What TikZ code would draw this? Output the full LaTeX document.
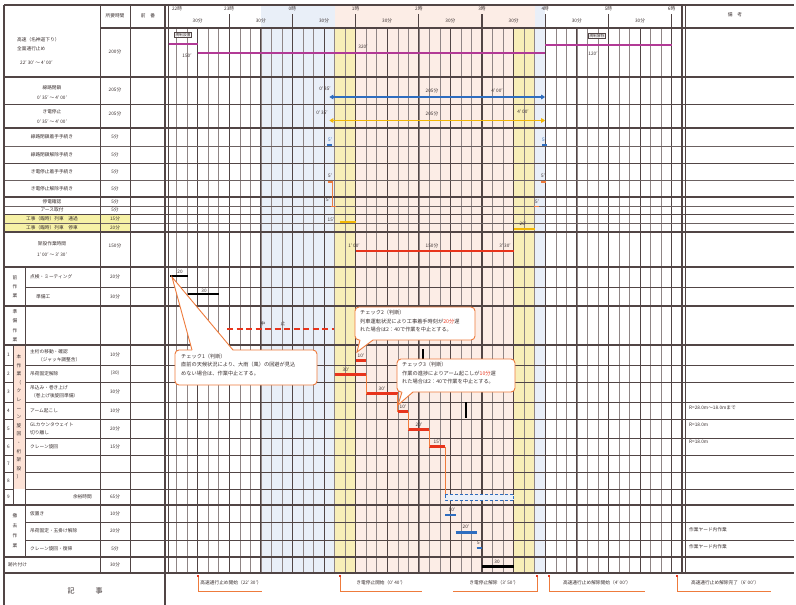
\documentclass[tikz,border=0pt]{standalone}
\usepackage{fontspec}
\setmainfont{Noto Sans CJK JP}
\usetikzlibrary{arrows.meta}
\definecolor{gridc}{HTML}{514545}
\definecolor{gridl}{HTML}{8F8585}
\definecolor{magc}{HTML}{B23A96}
\definecolor{bluec}{HTML}{2E6DBF}
\definecolor{yelc}{HTML}{F2B705}
\definecolor{redc}{HTML}{E8341C}
\definecolor{orac}{HTML}{EE7B3C}
\definecolor{bandpink}{HTML}{FCEDE6}
\definecolor{bandyel}{HTML}{F8EEB8}
\definecolor{bandblue}{HTML}{E9EFF8}
\definecolor{rowyel}{HTML}{F6F1A6}
\definecolor{colpink}{HTML}{FDE2D6}
\definecolor{txtc}{HTML}{3A3030}
\newcommand\fsa{\fontsize{4.7}{5.6}\selectfont}
\newcommand\fsb{\fontsize{5.2}{8.6}\selectfont}
\newcommand\fsv{\fontsize{4.7}{9}\selectfont}
\begin{document}
\begin{tikzpicture}[x=1pt,y=-1pt,
  every node/.style={inner sep=0pt,font=\fsa,text=txtc},
  gmaj/.style={gridc,line width=1.2pt},
  gmed/.style={gridc,line width=0.8pt},
  gmin/.style={gridc!85,line width=0.55pt},
  gthin/.style={gridl,line width=0.45pt},
  magbar/.style={magc,line width=2pt},
  redbar/.style={redc,line width=2.2pt},
  bluebar/.style={bluec,line width=2.2pt},
  blkbar/.style={black,line width=2.2pt},
  yelbar/.style={yelc,line width=2pt},
  orabar/.style={orac,line width=1.6pt},
  link/.style={orac,line width=0.5pt},
  callbox/.style={draw=orac,line width=0.9pt,fill=white,rounded corners=4pt},
  calledge/.style={orac,line width=0.9pt},
  noteline/.style={orac,line width=0.8pt},
  marker/.style={fill=redc,minimum size=2.2pt,inner sep=0pt},
  tagbox/.style={draw=gridc,line width=0.3pt,inner sep=0.8pt,font=\fontsize{3.8}{4}\selectfont},
]
\useasboundingbox (0,0) rectangle (796,605);
\fill[white] (0,0) rectangle (796,605);

% ---------- colour bands ----------
\fill[bandblue] (260.8,5) rectangle (334.5,573);
\fill[bandblue] (534.7,5) rectangle (545.2,573);
\fill[bandpink] (334.5,5) rectangle (534.7,28);
\fill[bandpink] (355.6,28) rectangle (513.6,573);
\fill[bandyel] (334.5,28) rectangle (355.6,573);
\fill[bandyel] (513.6,28) rectangle (534.7,573);
\fill[rowyel] (4,214) rectangle (130,232);
\fill[colpink] (13,345) rectangle (25,489);

% ---------- vertical grid of the time axis ----------
\foreach \i in {1,...,47}{\draw[gthin] ({166+\i*10.5333},28) -- ({166+\i*10.5333},573);}
\foreach \i in {1,3,...,15}{\draw[gmed] ({166+\i*31.6},28) -- ({166+\i*31.6},573);}
\foreach \i in {1,...,8}{\draw[gmaj] ({166+\i*63.2},14) -- ({166+\i*63.2},573);}

% ---------- horizontal lines ----------
\draw[gmaj] (4,5) -- (794,5);
\draw[gmaj] (100,28) -- (794,28);
\foreach \y in {77,128,197,232,267,306,345,505,557,573}{\draw[gmaj] (4,\y) -- (794,\y);}
\foreach \y in {104,163,214}{\draw[gmed] (4,\y) -- (794,\y);}
\foreach \y in {146,180,206,223}{\draw[gmin] (4,\y) -- (794,\y);}
\draw[gmed] (25,287) -- (794,287);
\foreach \y in {365,382,402,419,438,455,472,489}{\draw[gmed] (4,\y) -- (13,\y); \draw[gmed] (25,\y) -- (794,\y);}
\foreach \y in {522,540}{\draw[gmed] (25,\y) -- (794,\y);}

% ---------- vertical table lines ----------
\draw[gmaj] (4,5) -- (4,605);
\draw[gmed] (100,5) -- (100,573);
\draw[gmed] (130,5) -- (130,573);
\draw[gmaj] (165,5) -- (165,605);
\draw[gmed] (168.5,5) -- (168.5,573);
\draw[gmed] (25,267) -- (25,557);
\draw[gmed] (13,345) -- (13,505);
\draw[gmaj] (682,5) -- (682,573);
\draw[gmed] (685.5,5) -- (685.5,573);

% ---------- header ----------
\node (hd1) at (115,16) {所要時間};
\node (hd2) at (148,16) {前　番};
\node (hd3) at (735,15) {備　考};
\node (h22) at (177,9) {22時};
\foreach \h/\t in {1/23時,2/0時,3/1時,4/2時,5/3時,6/4時,7/5時,8/6時}{\node (h\h) at ({166+\h*63.2},9) {\t};}
\foreach \k in {0,...,7}{\node (m\k) at ({166+(2*\k+1)*31.6},21) {30分};}

% ---------- left column labels ----------
\node[anchor=west] (la1) at (17,40) {高速（名神道下り）};
\node[anchor=west] (la2) at (17,49) {全面通行止め};
\node[anchor=west] (la3) at (20,63) {22′ 30′ ～ 4′ 00′};
\node (da) at (115,52) {200分};
\node (lb1) at (52,88) {線路閉鎖};
\node (lb2) at (52,97.5) {0′ 35′ ～ 4′ 00′};
\node (db) at (115,90) {205分};
\node (lc1) at (52,112) {き電停止};
\node (lc2) at (52,121.5) {0′ 35′ ～ 4′ 00′};
\node (dc) at (115,114) {205分};
\node (ld) at (52,137) {線路閉鎖着手手続き}; \node (dd) at (115,137) {5分};
\node (le) at (52,155) {線路閉鎖解除手続き}; \node (de) at (115,155) {5分};
\node (lf) at (52,172) {き電停止着手手続き}; \node (df) at (115,172) {5分};
\node (lg) at (52,189) {き電停止解除手続き}; \node (dg) at (115,189) {5分};
\node (lh1) at (52,201.5) {停電確認}; \node (dh1) at (115,201.5) {5分};
\node (lh2) at (52,210) {アース取付}; \node (dh2) at (115,210) {5分};
\node (ly1) at (52,218.5) {工事（臨時）列車　通過}; \node (dy1) at (115,218.5) {15分};
\node (ly2) at (52,227.5) {工事（臨時）列車　停車}; \node (dy2) at (115,227.5) {20分};
\node (ll1) at (52,244) {架設作業時間};
\node (ll2) at (52,255) {1′ 00′ ～ 3′ 30′};
\node (dl) at (115,246) {150分};

\node[align=center,font=\fsv] (sec1) at (15,286.5) {前\\作\\業};
\node[anchor=west] (lp1) at (30,277) {点検・ミーティング}; \node (dp1) at (115,277) {20分};
\node[anchor=west] (lp2) at (36,296.5) {準備工}; \node (dp2) at (115,296.5) {30分};
\node[align=center,font=\fontsize{4.7}{9.5}\selectfont] (sec2) at (15,325.5) {準\\備\\作\\業};

\node[align=center,font=\fontsize{4.7}{8.6}\selectfont] (sec3) at (19,417) {本\\作\\業\\（\\ク\\レ\\ー\\ン\\旋\\回\\・\\桁\\架\\設\\）};
\foreach \n/\y in {1/355,2/373.5,3/392,4/410.5,5/428.5,6/446.5,7/463.5,8/480.5,9/497}{\node (no\n) at (8.5,\y) {\n};}
\node[anchor=west] (lr1a) at (30,351.5) {主桁の移動・確認};
\node[anchor=west] (lr1b) at (38,359.5) {（ジャッキ調整含）};
\node (dr1) at (115,355) {10分};
\node[anchor=west] (lr2) at (30,373.5) {吊荷固定解除}; \node (dr2) at (115,373.5) {(30)};
\node[anchor=west] (lr3a) at (30,388) {吊込み・巻き上げ};
\node[anchor=west] (lr3b) at (31,396) {（巻上げ後旋回準備）};
\node (dr3) at (115,392) {30分};
\node[anchor=west] (lr4) at (30,410.5) {アーム起こし}; \node (dr4) at (115,410.5) {10分};
\node[anchor=west] (lr5a) at (30,424.5) {GLカウンタウェイト};
\node[anchor=west] (lr5b) at (30,432.5) {切り離し};
\node (dr5) at (115,428.5) {20分};
\node[anchor=west] (lr6) at (30,446.5) {クレーン旋回}; \node (dr6) at (115,446.5) {15分};
\node[anchor=east] (lr9) at (92,497) {余裕時間}; \node (dr9) at (115,497) {65分};

\node[align=center,font=\fontsize{4.7}{10}\selectfont] (sec4) at (15,531) {撤\\去\\作\\業};
\node[anchor=west] (lt1) at (30,513.5) {仮置き}; \node (dt1) at (115,513.5) {10分};
\node[anchor=west] (lt2) at (30,531) {吊荷固定・玉掛け解除}; \node (dt2) at (115,531) {20分};
\node[anchor=west] (lt3) at (30,548.5) {クレーン旋回・復帰}; \node (dt3) at (115,548.5) {5分};
\node[anchor=west] (lz) at (8,565) {跡片付け}; \node (dz) at (115,565) {30分};

\node[font=\fontsize{7}{8}\selectfont] (kiji) at (85,591) {記　　　事};

% ---------- row A : highway closure ----------
\node[tagbox,fill=white] (kis1) at (183,35) {規制設置};
\draw[magbar] (168.5,43.5) -- (197.6,43.5);
\node (a150) at (187,56) {150′};
\draw[magbar] (197.6,52.5) -- (545.2,52.5);
\node (a320) at (363,46.5) {320′};
\draw[magbar] (545.2,44.5) -- (671.6,44.5);
\node[tagbox,fill=white] (kis2) at (597,36) {規制解除};
\node (a120) at (593,54) {120′};

% ---------- rows B, C ----------
\node (b1) at (325,89) {0′ 35′};
\draw[bluec,line width=1.4pt,{Triangle[length=4pt,width=4.5pt]}-{Triangle[length=4pt,width=4.5pt]}] (329.3,97) -- (545.2,97);
\node (b2) at (432,91) {205分};
\node (b3) at (497,91) {4′ 00′};
\node (c1) at (322,112.5) {0′ 35′};
\draw[yelc,line width=1.4pt,{Triangle[length=4pt,width=4.5pt]}-{Triangle[length=4pt,width=4.5pt]}] (329.3,120.5) -- (545.2,120.5);
\node (c2) at (432,114) {205分};
\node (c3) at (523,111.5) {4′ 00′};

% ---------- procedure marks ----------
\node[text=bluec] (d1) at (330,139.5) {5′};
\draw[bluec,line width=2pt] (327,145) -- (332,145);
\node[text=bluec] (d2) at (544,139.5) {5′};
\draw[bluec,line width=2pt] (542,145) -- (547,145);
\node (f1) at (330,175.5) {5′};
\draw[orabar] (327.5,182) -- (333,182);
\node (f2) at (543,175.5) {5′};
\draw[orabar] (541,182) -- (546,182);
\node (g1) at (328,200) {5′};
\draw[orabar] (331,206.5) -- (336,206.5);
\node (g2) at (537,201.5) {5′};
\draw[orabar] (534,206.5) -- (539,206.5);
\draw[link] (332,183) -- (332,206);
\node (y1) at (331,219.5) {15′};
\draw[yelbar] (339.8,221.5) -- (355.6,221.5);
\node (y2) at (523,224) {20′};
\draw[yelbar] (513.6,228.5) -- (534.7,228.5);

% ---------- row L ----------
\node (l1) at (354,245.5) {1′ 00′};
\node (l2) at (432,245.5) {150分};
\node (l3) at (505,245.5) {3′ 30′};
\draw[redbar] (355.6,251) -- (513.6,251);

% ---------- preparation ----------
\draw[blkbar] (170,276) -- (188,276);
\node (p1) at (180,272) {20};
\draw[blkbar] (188,294) -- (219,294);
\node (p2) at (204,290.5) {30};
\draw[redc,line width=1.6pt,dash pattern=on 6pt off 3.5pt] (227,329) -- (334,329);
\node (s1) at (263,323.5) {中};
\node (s2) at (283,323.5) {止};

% ---------- main work ----------
\draw[redbar] (355.6,360.5) -- (366.1,360.5); \node (r1) at (361,355.5) {10′};
\draw[redbar] (334.5,374.5) -- (366.1,374.5); \node (r2) at (346,369.5) {30′};
\draw[redbar] (366.1,393.5) -- (397.7,393.5); \node (r3) at (382,388.5) {30′};
\draw[redbar] (397.7,411.5) -- (408.3,411.5); \node (r4) at (403,406.5) {10′};
\draw[redbar] (408.3,429.5) -- (429.3,429.5); \node (r5) at (419,424.5) {20′};
\draw[redbar] (429.3,446.5) -- (445.1,446.5); \node (r6) at (437,441.5) {15′};
\draw[link] (366.1,374.5) -- (366.1,393.5);
\draw[link] (397.7,393.5) -- (397.7,411.5);
\draw[link] (408.3,411.5) -- (408.3,429.5);
\draw[link] (429.3,429.5) -- (429.3,446.5);
\draw[link] (445.1,446.5) -- (445.1,495);
\draw[bluec,densely dashed,line width=0.6pt,fill=bluec!10] (445.1,494.5) rectangle (513.6,500);
\draw[black,line width=2.4pt] (423,349) -- (423,360);
\draw[black,line width=2.4pt] (466,402) -- (466,418);

% ---------- removal ----------
\draw[bluebar] (445.1,515) -- (455.7,515); \node (t1) at (452,509.5) {10′};
\draw[bluebar] (455.7,532.5) -- (476.7,532.5); \node (t2) at (466,527) {20′};
\draw[bluebar] (476.7,548) -- (482,548); \node (t3) at (479,543) {5′};
\draw[blkbar] (482,566.5) -- (513.6,566.5); \node (z1) at (497,561.5) {30};

% ---------- remarks ----------
\node[anchor=west] (bk1) at (689,408) {R=28.0m～18.0mまで};
\node[anchor=west] (bk2) at (689,425) {R=18.0m};
\node[anchor=west] (bk3) at (689,442) {R=18.0m};
\node[anchor=west] (bk4) at (689,530) {作業ヤード内作業};
\node[anchor=west] (bk5) at (689,547) {作業ヤード内作業};

% ---------- callout 1 ----------
\draw[callbox] (175,350) rectangle (317,385);
\fill[white] (192.6,351.3) -- (192,350) -- (172,277) -- (233,350) -- (232.2,351.3) -- cycle;
\draw[calledge] (192,350) -- (172,277) -- (233,350);
\node[anchor=north west,align=left,font=\fsb] (co1) at (181,353.5) {チェック1（判断）\\直前の天候状況により、大雨（風）の回避が見込\\めない場合は、作業中止とする。};

% ---------- callout 2 ----------
\draw[callbox] (355,307) rectangle (475,340);
\fill[white] (360.6,338.7) -- (360,340) -- (357,352) -- (373,340) -- (372.4,338.7) -- cycle;
\draw[calledge] (360,340) -- (357,352) -- (373,340);
\node[anchor=north west,align=left,font=\fsb] (co2) at (360,310) {チェック2（判断）\\列車運転状況により工事着手時刻が\textcolor{redc}{20分}遅\\れた場合は2：40で作業を中止とする。};

% ---------- callout 3 ----------
\draw[callbox] (397,359) rectangle (515,392);
\fill[white] (402.6,390.7) -- (402,392) -- (398,405) -- (413,392) -- (412.4,390.7) -- cycle;
\draw[calledge] (402,392) -- (398,405) -- (413,392);
\node[anchor=north west,align=left,font=\fsb] (co3) at (402,362) {チェック3（判断）\\作業の進捗によりアーム起こしが\textcolor{redc}{10分}遅\\れた場合は2：40で作業を中止とする。};

% ---------- bottom notes ----------
\draw[noteline] (198,576) -- (198,591) -- (262,591);
\node[marker] (mk1) at (198,576) {};
\node (nt1) at (231,583) {高速通行止め開始（22′ 30′）};
\draw[noteline] (340,576) -- (340,591) -- (422,591);
\node[marker] (mk2) at (340,576) {};
\node (nt2) at (381,583) {き電停止開始（0′ 40′）};
\draw[noteline] (537,576) -- (537,591) -- (453,591);
\node[marker] (mk3) at (537,576) {};
\node (nt3) at (494,583) {き電停止解除（3′ 50′）};
\draw[noteline] (549,576) -- (549,591) -- (645,591);
\node[marker] (mk4) at (549,576) {};
\node (nt4) at (597,583) {高速通行止め解除開始（4′ 00′）};
\draw[noteline] (677,576) -- (677,591) -- (771,591);
\node[marker] (mk5) at (677,576) {};
\node (nt5) at (725,583) {高速通行止め解除完了（6′ 00′）};
\end{tikzpicture}
\end{document}
